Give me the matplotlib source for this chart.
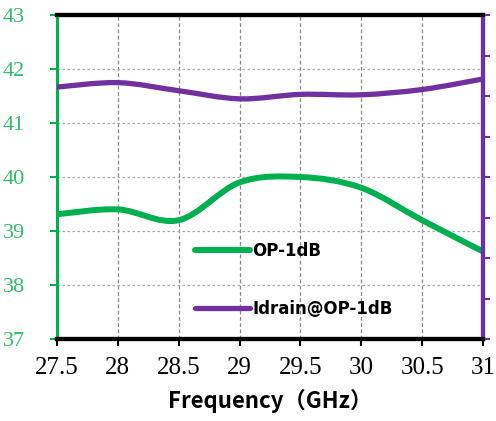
import numpy as np
import matplotlib.pyplot as plt
from matplotlib.path import Path
from matplotlib.patches import PathPatch
from matplotlib.lines import Line2D

freq = [27.5, 28, 28.5, 29, 29.5, 30, 30.5, 31]
op1db = [39.31, 39.40, 39.20, 39.90, 40.00, 39.80, 39.20, 38.62]
idrain = [6.22, 6.33, 6.13, 5.93, 6.04, 6.03, 6.16, 6.42]

xticks = [27.5, 28, 28.5, 29, 29.5, 30, 30.5, 31]
yticks = [37, 38, 39, 40, 41, 42, 43]

GREEN = '#00B050'
LABEL_GREEN = '#2DBE6C'
PURPLE = '#7030A0'


def smooth_path(x, y):
    "bezier path through the points, excel-style smoothing"
    p = np.column_stack([x, y]).astype(float)
    n = len(p)
    verts = [p[0]]
    codes = [Path.MOVETO]
    for i in range(n - 1):
        p0 = p[i - 1] if i > 0 else p[i]
        p3 = p[i + 2] if i + 2 < n else p[i + 1]
        c1 = p[i] + (p[i + 1] - p0) / 6
        c2 = p[i + 1] - (p3 - p[i]) / 6
        verts += [c1, c2, p[i + 1]]
        codes += [Path.CURVE4] * 3
    return Path(verts, codes)


fig = plt.figure(figsize=(4.96, 4.21), dpi=100)
ax = fig.add_axes([57 / 496, 1 - 339 / 421, 426 / 496, 324 / 421])
ax2 = ax.twinx()

ax.add_patch(PathPatch(smooth_path(freq, op1db), fill=False, edgecolor=GREEN,
                       lw=4.3, capstyle='round', zorder=3))
ax2.add_patch(PathPatch(smooth_path(freq, idrain), fill=False, edgecolor=PURPLE,
                        lw=3.8, capstyle='round', zorder=3))

ax.set_xlim(27.5, 31)
ax.set_ylim(37, 43)
ax2.set_ylim(0, 8)

ax.set_xticks(xticks)
ax.set_xticklabels([f'{v:g}' for v in xticks], fontfamily='Liberation Serif',
                   fontsize=18)
ax.set_yticks(yticks)
ax.set_yticklabels([str(v) for v in yticks], fontfamily='Liberation Serif',
                   fontsize=16, color=LABEL_GREEN)
ax2.set_yticks(np.arange(0, 9))
ax2.set_yticklabels([])

ax.tick_params(axis='x', direction='out', length=5, width=1.5, pad=8)
ax.tick_params(axis='y', direction='out', length=5, width=1.5, pad=18,
               color=GREEN)
ax2.tick_params(axis='y', direction='out', length=5, width=1.5, color=PURPLE)

ax.grid(True, axis='x', color='#888888', ls=(0, (3, 2)), lw=0.9)
ax.grid(True, axis='y', color='#aaaaaa', ls=(0, (2, 2)), lw=0.9)

for a in (ax, ax2):
    a.spines['top'].set_color('black')
    a.spines['top'].set_linewidth(3)
    a.spines['bottom'].set_color('black')
    a.spines['bottom'].set_linewidth(3)
    a.spines['left'].set_color(GREEN)
    a.spines['left'].set_linewidth(2)
    a.spines['right'].set_color(PURPLE)
    a.spines['right'].set_linewidth(3)

ax.set_xlabel('Frequency（GHz）', fontfamily=['Noto Sans CJK SC', 'DejaVu Sans'],
              fontweight='bold', fontsize=16, labelpad=7)

handles = [Line2D([], [], color=GREEN, lw=4.3, solid_capstyle='round'),
           Line2D([], [], color=PURPLE, lw=3.8, solid_capstyle='round')]
ax2.legend(handles, ['OP-1dB', 'Idrain@OP-1dB'], loc='center left',
           bbox_to_anchor=(0.324, 0.183), frameon=False, borderpad=0,
           borderaxespad=0, handlelength=3.3, handletextpad=0.15,
           labelspacing=2.4, prop={'family': 'DejaVu Sans', 'weight': 'bold',
                                   'size': 12})

fig.savefig('out.png', dpi=100)
